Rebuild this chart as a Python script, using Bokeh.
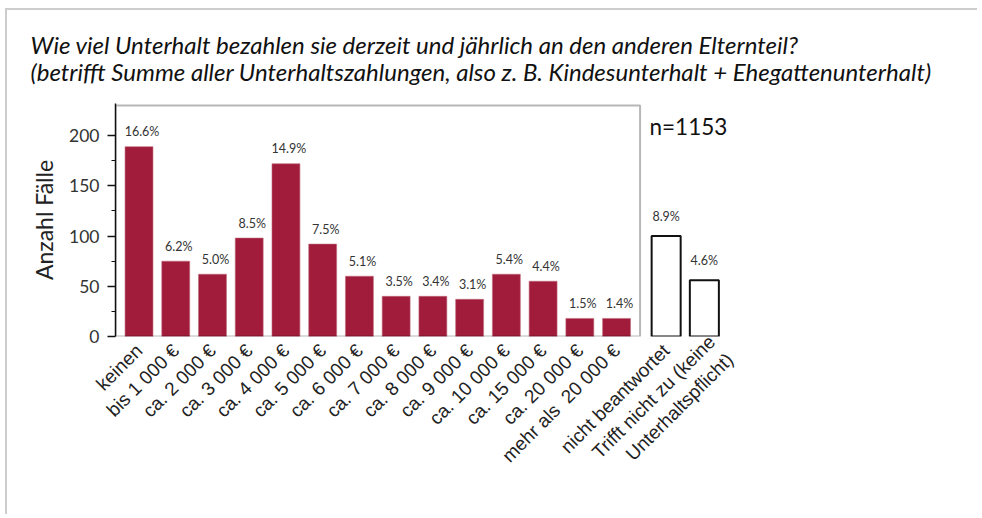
import numpy as np
from math import pi
from bokeh.plotting import figure
from bokeh.models import (ColumnDataSource, FixedTicker, Label, BoxAnnotation, Range1d, Title,
                          InlineStyleSheet)
from bokeh.core.properties import value
from bokeh.embed import file_html
from bokeh.resources import INLINE

# ---------------- data ----------------
title_line1 = "Wie viel Unterhalt bezahlen sie derzeit und jährlich an den anderen Elternteil?"
title_line2 = "(betrifft Summe aller Unterhaltszahlungen, also z. B. Kindesunterhalt + Ehegattenunterhalt)"
y_label = "Anzahl Fälle"
n_text = "n=1153"

categories = ["keinen", "bis 1 000 €", "ca. 2 000 €", "ca. 3 000 €", "ca. 4 000 €",
              "ca. 5 000 €", "ca. 6 000 €", "ca. 7 000 €", "ca. 8 000 €", "ca. 9 000 €",
              "ca. 10 000 €", "ca. 15 000 €", "ca. 20 000 €", "mehr als\u00a0 20 000 €"]
counts = [189, 75, 62, 98, 172, 92, 60, 40, 40, 37, 62, 55, 18, 18]
percents = ["16.6%", "6.2%", "5.0%", "8.5%", "14.9%", "7.5%", "5.1%", "3.5%",
            "3.4%", "3.1%", "5.4%", "4.4%", "1.5%", "1.4%"]

extra_categories = ["nicht beantwortet", "Trifft nicht zu (keine\nUnterhaltspflicht)"]
extra_counts = [100, 56]
extra_percents = ["8.9%", "4.6%"]

y_ticks = [0, 50, 100, 150, 200]

# ---------------- layout constants ----------------
GAP = 0.35
EXTRA_PITCH = 1.04
X_START, X_END = -0.64, 17.0
BOX_TOP = 230
Y_END = 232
EXTRA_LABEL_SHIFT = [0.0, 0.45]   # shift of the (two-line) tick label

x_main = np.arange(len(categories)).astype(float)
x_extra = len(categories) + GAP + np.arange(len(extra_categories)) * EXTRA_PITCH

main_src = ColumnDataSource(dict(x=x_main, top=counts, pct=percents))
extra_src = ColumnDataSource(dict(x=x_extra, top=extra_counts, pct=extra_percents))

p = figure(width=972, height=506, output_backend="svg", toolbar_location=None,
           x_range=Range1d(X_START, X_END), y_range=Range1d(0, Y_END),
           min_border_left=108, min_border_right=216, min_border_top=92,
           min_border_bottom=180)
p.stylesheets = [InlineStyleSheet(css=(
    ":host { margin-left: 5px; margin-top: 8px; "
    "border-left: 2px solid #cdcdcd; border-top: 2px solid #cdcdcd; }"))]
p.outline_line_color = None
p.xgrid.grid_line_color = None
p.ygrid.grid_line_color = None
p.background_fill_color = "white"
p.border_fill_color = "white"

BAR = "#A11B3A"
p.vbar(x="x", top="top", bottom=0, width=0.76, source=main_src,
       fill_color=BAR, line_color="#c06a7c", line_width=0.6)
p.vbar(x="x", top="top", bottom=0, width=0.79, source=extra_src,
       fill_color="white", line_color="#111111", line_width=2)

lbl_kw = dict(text="pct", text_align="center", text_baseline="middle",
              text_font=value("Lato"), text_font_size="12.5px", text_color="#333333")
p.text(x="x", y="top", source=main_src, x_offset=3, y_offset=-15, **lbl_kw)
p.text(x="x", y="top", source=extra_src, x_offset=0, y_offset=-20, **lbl_kw)

# frame around main panel
p.add_layout(BoxAnnotation(left=X_START, right=len(categories) - 1 - X_START,
                           bottom=0, top=BOX_TOP, fill_alpha=0, fill_color=None,
                           line_color="#111111", line_width=2))

# y axis
yax = p.yaxis[0]
yax.ticker = FixedTicker(ticks=y_ticks, minor_ticks=[v + 25 for v in y_ticks[:-1]])
yax.axis_label = y_label
yax.axis_label_text_font = "Lato"
yax.axis_label_text_font_size = "23px"
yax.axis_label_text_font_style = "normal"
yax.axis_label_text_color = "#222222"
yax.axis_label_standoff = 8
yax.major_label_text_font = "Lato"
yax.major_label_text_font_size = "17.5px"
yax.major_label_text_color = "#333333"
yax.major_label_standoff = 8
yax.axis_line_color = "#111111"
yax.axis_line_width = 1.5
yax.major_tick_line_color = "#111111"
yax.major_tick_line_width = 1.5
yax.minor_tick_line_color = "#111111"
yax.minor_tick_line_width = 1.2
yax.major_tick_out = 8
yax.major_tick_in = 0
yax.minor_tick_out = 4
yax.minor_tick_in = 0

# x axis
tick_x = [float(v) for v in x_main] + [float(v + s) for v, s in zip(x_extra, EXTRA_LABEL_SHIFT)]
all_labels = categories + extra_categories
xax = p.xaxis[0]
xax.ticker = FixedTicker(ticks=tick_x, minor_ticks=[])
xax.major_label_overrides = {x: l for x, l in zip(tick_x, all_labels)}
xax.major_label_orientation = pi / 4
xax.major_label_text_font = "Liberation Sans"
xax.major_label_text_font_size = "19px"
xax.major_label_text_color = "#222222"
xax.major_label_standoff = 5
xax.axis_line_color = None
xax.major_tick_line_color = None
xax.minor_tick_line_color = None

# title (two lines)
p.add_layout(Title(text=title_line1 + "\n" + title_line2, standoff=35, align="left",
                   offset=-85, text_font="Lato", text_font_style="italic",
                   text_font_size="24px", text_color="#111111", text_line_height=0.92),
             "above")

p.add_layout(Label(x=640, y=114, x_units="canvas", y_units="canvas", text=n_text,
                   text_font="Lato", text_font_size="22.5px", text_color="#111111",
                   text_baseline="middle"))

open("out.html", "w").write(file_html(p, INLINE))
